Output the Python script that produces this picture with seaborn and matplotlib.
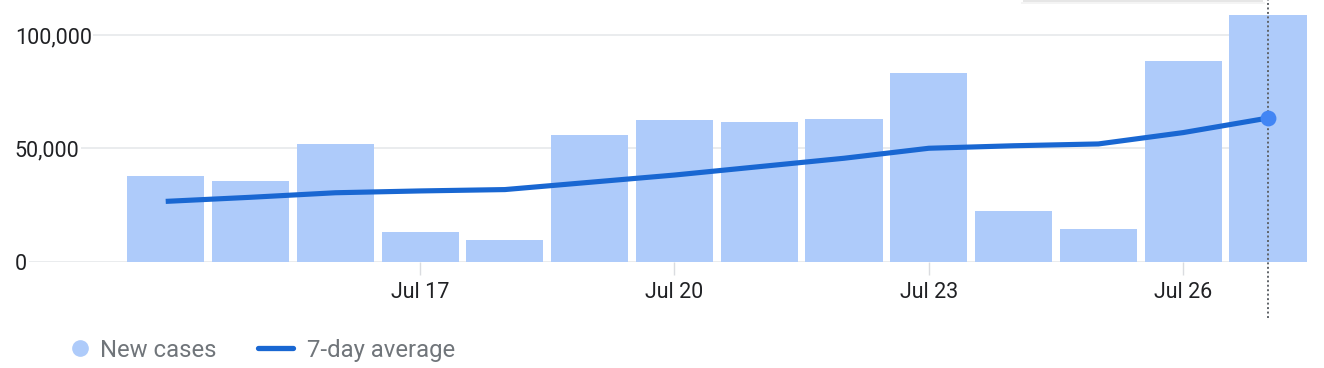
import matplotlib
matplotlib.use("Agg")
import matplotlib.pyplot as plt
from matplotlib.lines import Line2D
from matplotlib.patches import Rectangle
import seaborn as sns
import pandas as pd
import numpy as np

# ---- data ----
days = ["Jul 14", "Jul 15", "Jul 16", "Jul 17", "Jul 18", "Jul 19", "Jul 20",
        "Jul 21", "Jul 22", "Jul 23", "Jul 24", "Jul 25", "Jul 26", "Jul 27"]
new_cases = [37900, 35600, 51900, 13100, 9700, 55800, 62600,
             61800, 63000, 83100, 22500, 14500, 88600, 108800]
avg7 = [26700, 28500, 30500, 31300, 31900, 35100, 38300,
        42000, 45700, 50100, 51200, 52000, 57000, 63400]
tick_days = ["Jul 17", "Jul 20", "Jul 23", "Jul 26"]
y_ticks = [0, 50000, 100000]
y_tick_labels = ["0", "50,000", "100,000"]
legend_labels = ["New cases", "7-day average"]

BAR = "#AECBFA"
LINE = "#1967D2"
DOT = "#4285F4"
GRID = "#E8EAED"
TXT = "#202124"
LEG = "#70757A"

sns.set_theme(style="white")
plt.rcParams["font.family"] = ["Roboto", "DejaVu Sans"]

W, H = 1324, 368
fig = plt.figure(figsize=(W / 100, H / 100), dpi=100)
ax = fig.add_axes([27 / W, 1 - 262 / H, (1307 - 27) / W, 262 / H])

df = pd.DataFrame({"day": days, "cases": new_cases, "avg": avg7})
df["pos"] = np.arange(len(df))

sns.barplot(data=df, x="day", y="cases", color=BAR, saturation=1, width=0.91,
            linewidth=0, ax=ax, zorder=2)
sns.lineplot(data=df, x="pos", y="avg", color=LINE, linewidth=3.7, ax=ax,
             zorder=3, solid_capstyle="butt")
last = df.iloc[[-1]]
sns.scatterplot(data=last, x="pos", y="avg", color=DOT, s=130, linewidth=0,
                ax=ax, zorder=5)
ax.axvline(last["pos"].iloc[0], ymin=-0.214, ymax=1, color="#5F6368",
           linestyle=(0, (1, 1.3)), linewidth=1.4, clip_on=False, zorder=4)

ax.set_xlim(-1.636, 13.46)
ax.set_ylim(0, 115400)
ax.set_xlabel("")
ax.set_ylabel("")

tick_pos = [days.index(d) for d in tick_days]
ax.set_xticks(tick_pos)
ax.set_xticklabels(tick_days, fontsize=15.5, color=TXT)
ax.tick_params(axis="x", length=9.5, width=1, color="#DADCE0", pad=5, bottom=True)

ax.set_yticks(y_ticks)
ax.set_yticklabels(y_tick_labels, fontsize=15.5, color=TXT, ha="left")
ax.tick_params(axis="y", length=0, pad=8.8)
for lab in ax.get_yticklabels():
    lab.set_bbox(dict(facecolor="white", edgecolor="none", pad=1.2))

ax.grid(axis="y", color=GRID, linewidth=1.3)
ax.grid(axis="x", visible=False)
ax.set_axisbelow(True)
for s in ax.spines.values():
    s.set_visible(False)
ax.legend_ = None

# tooltip shadow remnant at top right
fig.add_artist(Rectangle((1023 / W, 1 - 2 / H), 240 / W, 2 / H,
                         transform=fig.transFigure, facecolor="#E6E6E6",
                         edgecolor="none"))
fig.add_artist(Rectangle((1021 / W, 1 - 4 / H), 244 / W, 2 / H,
                         transform=fig.transFigure, facecolor="#F4F4F4",
                         edgecolor="none"))

# legend
ly = 1 - 348 / H
fig.add_artist(Line2D([80 / W], [ly], transform=fig.transFigure, marker="o",
                      markersize=11, color=BAR, linestyle="none"))
fig.text(100 / W, ly, legend_labels[0], fontsize=17.2, color=LEG,
         va="center_baseline", ha="left")
fig.add_artist(Line2D([258 / W, 293 / W], [ly, ly], transform=fig.transFigure,
                      color=LINE, linewidth=3.8, solid_capstyle="round"))
fig.text(307 / W, ly, legend_labels[1], fontsize=17.2, color=LEG,
         va="center_baseline", ha="left")

fig.savefig("out.png", dpi=100)
